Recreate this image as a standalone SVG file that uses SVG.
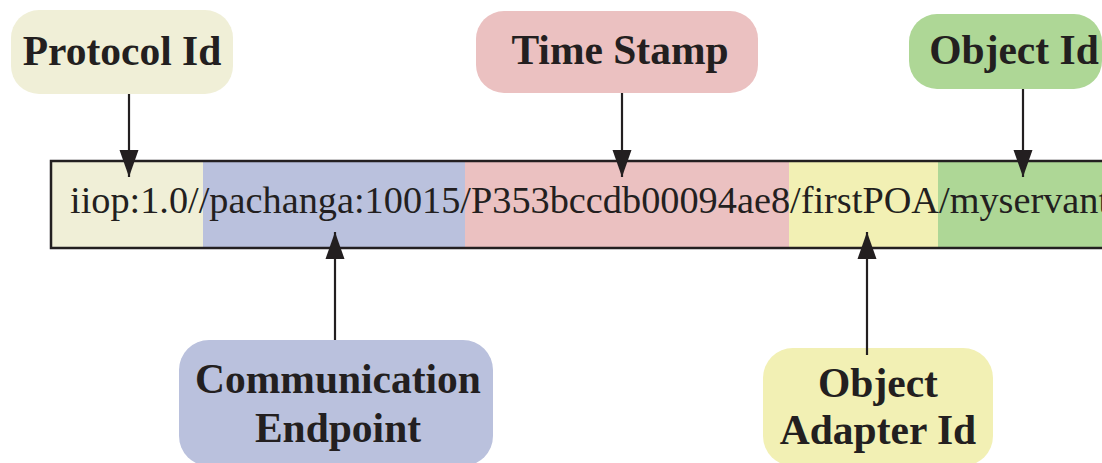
<svg xmlns="http://www.w3.org/2000/svg" width="1102" height="463" viewBox="0 0 1102 463">
<defs>
<style>
.lbl{font-family:"Liberation Serif","Times New Roman",serif;font-weight:bold;font-size:41.5px;fill:#231f20;text-anchor:middle}
.str{font-family:"Liberation Serif","Times New Roman",serif;font-size:38.3px;fill:#231f20}
.conn{stroke:#231f20;stroke-width:2.2;fill:none;marker-end:url(#ah)}
</style>
<marker id="ah" markerUnits="userSpaceOnUse" markerWidth="28" markerHeight="20" refX="27" refY="10" orient="auto">
<path d="M0,0.5 L27,10 L0,19.5 Z" fill="#231f20"/>
</marker>
</defs>
<rect width="1102" height="463" fill="#ffffff"/>
<g id="bar">
<rect x="51" y="161" width="152" height="87" fill="#f0efd7"/>
<rect x="203" y="161" width="262" height="87" fill="#bac1dd"/>
<rect x="465" y="161" width="324" height="87" fill="#ebc1c1"/>
<rect x="789" y="161" width="149" height="87" fill="#f2f0b4"/>
<rect x="938" y="161" width="180" height="87" fill="#aed796"/>
<rect x="51" y="161" width="1070" height="87" fill="none" stroke="#231f20" stroke-width="2.5"/>
<text class="str" x="70" y="213">iiop:1.0//pachanga:10015/P353bccdb00094ae8/firstPOA/myservant</text>
</g>
<g id="protocol-id">
<rect x="11" y="10" width="222" height="84" rx="28" fill="#f0efd7"/>
<text class="lbl" x="122" y="65">Protocol Id</text>
</g>
<g id="time-stamp">
<rect x="476" y="11" width="282" height="82" rx="28" fill="#ebc1c1"/>
<text class="lbl" x="620" y="64">Time Stamp</text>
</g>
<g id="object-id">
<rect x="909" y="14" width="193" height="75" rx="28" fill="#aed796"/>
<text class="lbl" x="1014" y="64">Object Id</text>
</g>
<g id="communication-endpoint">
<rect x="179" y="340" width="314" height="126" rx="30" fill="#bac1dd"/>
<text class="lbl" x="338" y="393">Communication</text>
<text class="lbl" x="338" y="442">Endpoint</text>
</g>
<g id="object-adapter-id">
<rect x="763" y="348" width="230" height="118" rx="30" fill="#f2f0b4"/>
<text class="lbl" x="878" y="397">Object</text>
<text class="lbl" x="878" y="444">Adapter Id</text>
</g>
<g id="connectors">
<line class="conn" x1="129" y1="94" x2="129" y2="177"/>
<line class="conn" x1="622" y1="93" x2="622" y2="177"/>
<line class="conn" x1="1023" y1="89" x2="1023" y2="177"/>
<line class="conn" x1="335" y1="340" x2="335" y2="232"/>
<line class="conn" x1="867" y1="355" x2="867" y2="232"/>
</g>
</svg>
